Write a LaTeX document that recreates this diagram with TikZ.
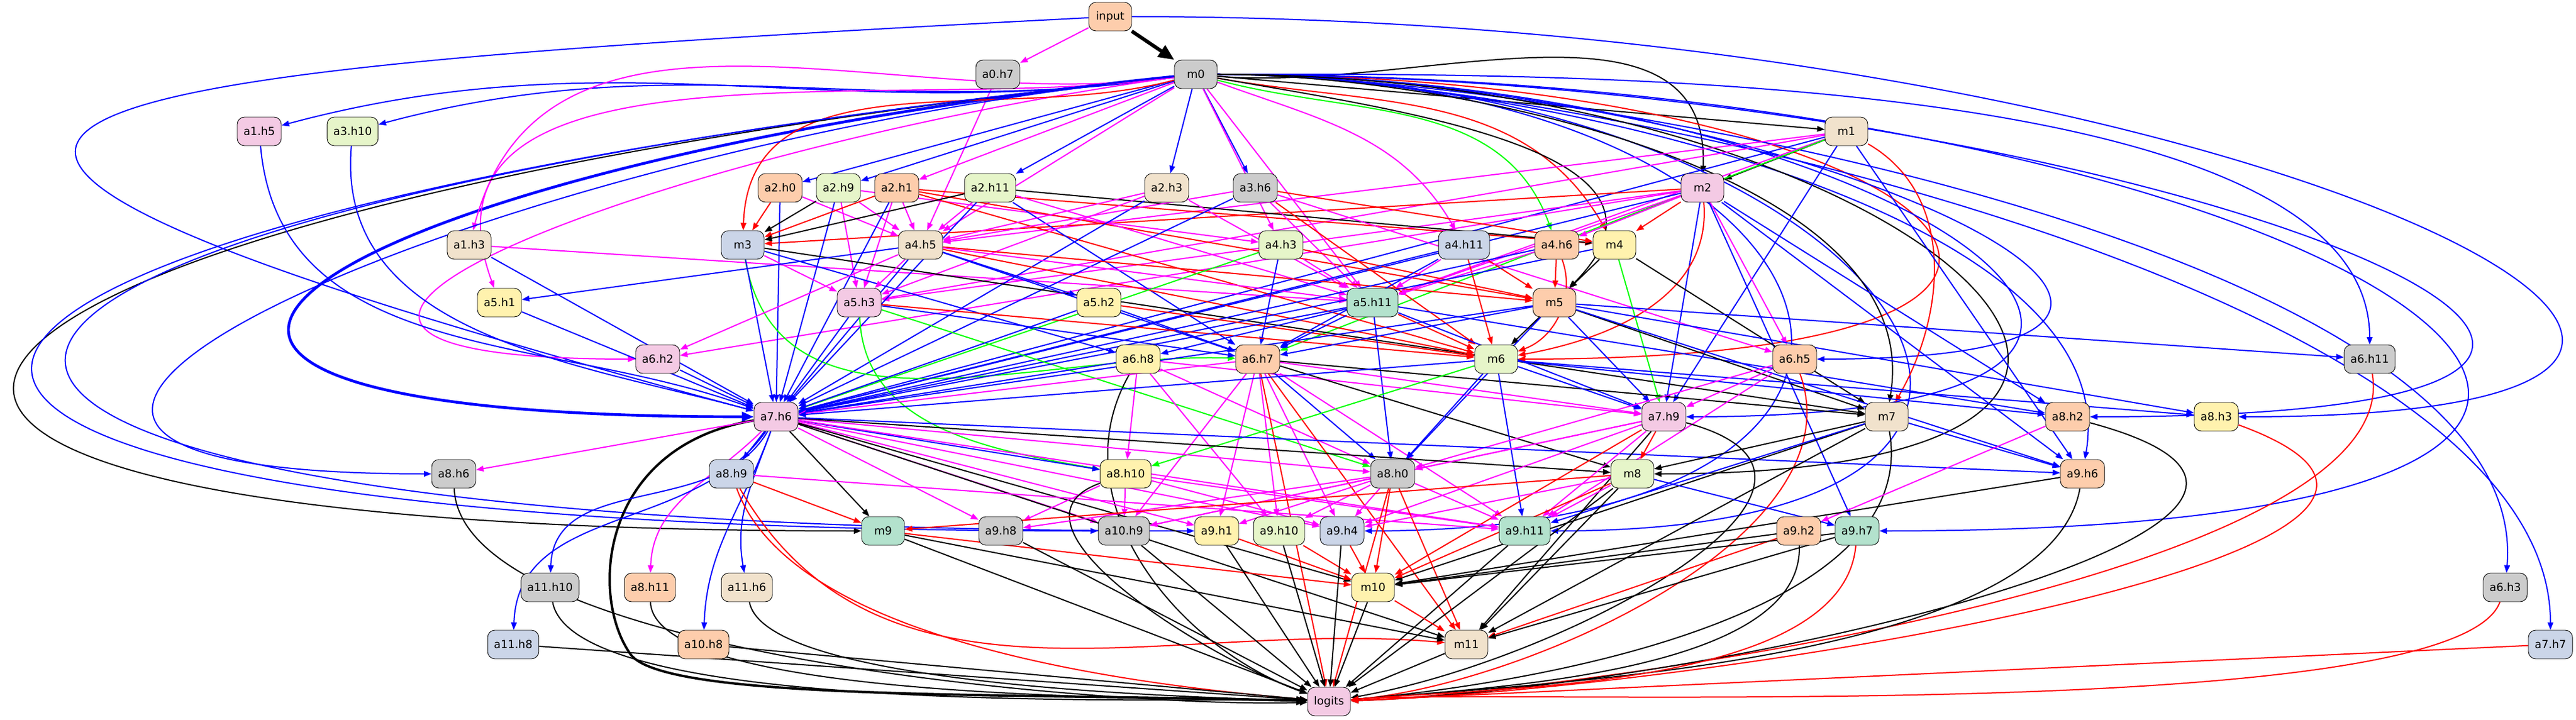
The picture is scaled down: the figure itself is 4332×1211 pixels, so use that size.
\documentclass[tikz,border=0pt]{standalone}
\usepackage{fontspec}
\setmainfont{DejaVu Sans}
\usepackage{tikz}
\usetikzlibrary{arrows.meta}
\usetikzlibrary{backgrounds}

\definecolor{cmint}{HTML}{B3E2CD}
\definecolor{cpeach}{HTML}{FDCDAC}
\definecolor{cblue}{HTML}{CBD5E8}
\definecolor{cpink}{HTML}{F4CAE4}
\definecolor{cgreen}{HTML}{E6F5C9}
\definecolor{cyellow}{HTML}{FFF2AE}
\definecolor{cbeige}{HTML}{F1E2CC}
\definecolor{cgrey}{HTML}{CCCCCC}
\definecolor{lblue}{RGB}{0,0,255}
\definecolor{lmag}{RGB}{255,0,255}
\definecolor{lred}{RGB}{255,0,0}
\definecolor{lgreen}{RGB}{0,255,0}

\begin{document}
\begin{tikzpicture}
          [x=0.2pt, y=-0.2pt, line width=0.18pt, >={Triangle[length=2.55pt,width=1.9pt]},
           head/.style = {draw, rounded corners=2.4pt, minimum width=14.4pt, minimum height=9.6pt,
                          inner xsep=2.11pt, inner ysep=0.5pt, font=\fontsize{3.73}{4.3}\selectfont},
           mintbox/.style = {head, fill=cmint}, peachbox/.style = {head, fill=cpeach},
           bluebox/.style = {head, fill=cblue}, pinkbox/.style = {head, fill=cpink},
           greenbox/.style = {head, fill=cgreen}, yellowbox/.style = {head, fill=cyellow},
           beigebox/.style = {head, fill=cbeige}, greybox/.style = {head, fill=cgrey},
           eblue/.style = {->, lblue}, emag/.style = {->, lmag}, ered/.style = {->, lred},
           egreen/.style = {->, lgreen}, eblack/.style = {->, black}]
          \useasboundingbox (0,0) rectangle (4332,1211);

          % rank 0 and 1
          \node[peachbox] (input) at (1867,28) {input};
          \node[greybox] (a0h7) at (1678,125) {a0.h7};
          \node[greybox] (m0) at (2011,125) {m0};
          % rank 2
          \node[pinkbox] (a1h5) at (436,221) {a1.h5};
          \node[greenbox] (a3h10) at (593,221) {a3.h10};
          \node[beigebox] (m1) at (3105,221) {m1};
          % rank 3
          \node[peachbox] (a2h0) at (1312,316) {a2.h0};
          \node[greenbox] (a2h9) at (1410,316) {a2.h9};
          \node[peachbox] (a2h1) at (1508,316) {a2.h1};
          \node[greenbox] (a2h11) at (1665,316) {a2.h11};
          \node[beigebox] (a2h3) at (1962,316) {a2.h3};
          \node[greybox] (a3h6) at (2111,316) {a3.h6};
          \node[pinkbox] (m2) at (2863,316) {m2};
          % rank 4
          \node[beigebox] (a1h3) at (789,412) {a1.h3};
          \node[bluebox] (m3) at (1249,412) {m3};
          \node[beigebox] (a4h5) at (1548,412) {a4.h5};
          \node[greenbox] (a4h3) at (2154,412) {a4.h3};
          \node[bluebox] (a4h11) at (2462,412) {a4.h11};
          \node[peachbox] (a4h6) at (2618,412) {a4.h6};
          \node[yellowbox] (m4) at (2715,412) {m4};
          % rank 5
          \node[yellowbox] (a5h1) at (840,509) {a5.h1};
          \node[pinkbox] (a5h3) at (1445,509) {a5.h3};
          \node[yellowbox] (a5h2) at (1848,509) {a5.h2};
          \node[mintbox] (a5h11) at (2308,509) {a5.h11};
          \node[peachbox] (m5) at (2614,509) {m5};
          % rank 6
          \node[pinkbox] (a6h2) at (1106,604) {a6.h2};
          \node[yellowbox] (a6h8) at (1914,604) {a6.h8};
          \node[peachbox] (a6h7) at (2115,604) {a6.h7};
          \node[greenbox] (m6) at (2516,604) {m6};
          \node[peachbox] (a6h5) at (3018,604) {a6.h5};
          \node[greybox] (a6h11) at (3985,604) {a6.h11};
          % rank 7
          \node[pinkbox] (a7h6) at (1305,701) {a7.h6};
          \node[pinkbox] (a7h9) at (2798,701) {a7.h9};
          \node[beigebox] (m7) at (3173,701) {m7};
          \node[peachbox] (a8h2) at (3477,701) {a8.h2};
          \node[yellowbox] (a8h3) at (3727,701) {a8.h3};
          % rank 8
          \node[greybox] (a8h6) at (763,797) {a8.h6};
          \node[bluebox] (a8h9) at (1230,797) {a8.h9};
          \node[yellowbox] (a8h10) at (1893,797) {a8.h10};
          \node[greybox] (a8h0) at (2342,797) {a8.h0};
          \node[greenbox] (m8) at (2745,797) {m8};
          \node[peachbox] (a9h6) at (3502,797) {a9.h6};
          % rank 9
          \node[mintbox] (m9) at (1485,893) {m9};
          \node[greybox] (a9h8) at (1683,893) {a9.h8};
          \node[greybox] (a10h9) at (1890,893) {a10.h9};
          \node[yellowbox] (a9h1) at (2046,893) {a9.h1};
          \node[greenbox] (a9h10) at (2151,893) {a9.h10};
          \node[bluebox] (a9h4) at (2257,893) {a9.h4};
          \node[mintbox] (a9h11) at (2564,893) {a9.h11};
          \node[peachbox] (a9h2) at (3025,893) {a9.h2};
          \node[mintbox] (a9h7) at (3123,893) {a9.h7};
          % rank 10
          \node[greybox] (a11h10) at (925,988) {a11.h10};
          \node[peachbox] (a8h11) at (1093,988) {a8.h11};
          \node[beigebox] (a11h6) at (1256,988) {a11.h6};
          \node[yellowbox] (m10) at (2309,988) {m10};
          \node[greybox] (a6h3) at (4213,988) {a6.h3};
          % rank 11 and 12
          \node[bluebox] (a11h8) at (863,1084) {a11.h8};
          \node[peachbox] (a10h8) at (1183,1084) {a10.h8};
          \node[beigebox] (m11) at (2466,1084) {m11};
          \node[bluebox] (a7h7) at (4289,1084) {a7.h7};
          \node[pinkbox] (logits) at (2235,1180) {logits};

          \begin{scope}[on background layer]
          % input
          \draw[eblack, -{Triangle[length=5.3pt,width=4.5pt]}, line width=1.2pt] (input) to (m0);
          \draw[emag] (input) to (a0h7);
          \draw[eblue] (input) .. controls (-58,127) and (-556,202) .. (a7h6);
          \draw[eblue] (input) .. controls (3760,28) and (5100,701) .. (a8h3);
          \draw[emag] (a0h7) to (a4h5);
          % m0
          \draw[eblue, -{Triangle[length=4pt,width=3.2pt]}, line width=0.93pt] (m0) .. controls (554,274) and (-159,701) .. (a7h6);
          \draw[eblue] (m0) to[out=188,in=15] (a1h5);
          \draw[eblue] (m0) to[out=188,in=15] (a3h10);
          \draw[emag] (m0) to[out=188,in=75] (a1h3);
          \draw[emag] (m0) to[out=188,in=110] (a5h1);
          \draw[emag] (m0) .. controls (1100,253) and (186,604) .. (a6h2);
          \draw[eblue] (m0) to (a2h0);
          \draw[eblue] (m0) to (a2h9);
          \draw[emag] (m0) to (a2h1);
          \draw[eblue] (m0) to (a2h11);
          \draw[eblue] (m0) to (a2h3);
          \draw[eblue] (m0) to (a3h6);
          \draw[ered] (m0) to[out=195,in=88] (m3);
          \draw[emag] (m0) to (a4h5);
          \draw[emag] (m0) to (a4h3);
          \draw[emag] (m0) to[out=-20,in=120] (a4h11);
          \draw[egreen] (m0) to[out=-15,in=110] (a4h6);
          \draw[ered] (m0) to[out=-10,in=120] (m4);
          \draw[emag] (m0) to (a5h11);
          \draw[eblack] (m0) to (m1);
          \draw[eblack] (m0) to[out=-5,in=88] (m2);
          \draw[eblack] (m0) to[out=-10,in=45,looseness=1.2] (m5);
          \draw[ered] (m0) .. controls (3275,125) and (3780,604) .. (m6);
          \draw[eblue] (m0) .. controls (3010,125) and (4017,604) .. (a6h5);
          \draw[eblue] (m0) .. controls (2526,125) and (3985,104) .. (a6h11);
          \draw[eblue] (m0) .. controls (2604,125) and (4261,412) .. (a6h3);
          \draw[eblue] (m0) .. controls (2629,125) and (4289,481) .. (a7h7);
          \draw[eblue] (m0) .. controls (3566,125) and (5032,701) .. (a8h2);
          \draw[eblue] (m0) .. controls (2497,125) and (3580,333) .. (a9h6);
          \draw[eblue] (m0) .. controls (3953,125) and (5064,893) .. (a9h7);
          \draw[eblue] (m0) .. controls (3160,125) and (3713,893) .. (a9h11);
          \draw[eblue] (m0) .. controls (3154,125) and (3400,893) .. (a9h4);
          \draw[eblue] (m0) .. controls (3194,125) and (3981,701) .. (a7h9);
          \draw[eblack] (m0) .. controls (2445,125) and (3242,288) .. (m7);
          \draw[eblack] (m0) .. controls (3218,125) and (3952,797) .. (m8);
          \draw[eblue] (m0) .. controls (814,247) and (-439,797) .. (a8h6);
          \draw[eblack] (m0) .. controls (-238,357) and (-774,893) .. (m9);
          \draw[eblue] (m0) .. controls (-492,384) and (-632,893) .. (a10h9);
          \draw[eblue] (m0) .. controls (-527,388) and (-504,893) .. (a9h1);
          % m1 and m2
          \draw[eblack] (m1) to (m2);
          \draw[emag] (m1) to (a4h5);
          \draw[emag] (m1) to (a5h3);
          \draw[emag] (m1) to (a5h11);
          \draw[egreen] (m1) to (a6h7);
          \draw[eblue] (m1) to (a7h6);
          \draw[eblue] (m1) to (a7h9);
          \draw[ered] (m1) to[out=-30,in=60] (m7);
          \draw[eblue] (m1) to (a9h6);
          \draw[ered] (m2) to (m3);
          \draw[ered] (m2) to (m4);
          \draw[emag] (m2) to (a4h6);
          \draw[emag] (m2) to (a5h11);
          \draw[emag] (m2) to (a5h3);
          \draw[emag] (m2) to (a6h2);
          \draw[emag] (m2) to (a6h5);
          \draw[eblue] (m2) to (a7h6);
          \draw[eblue] (m2) to (a7h9);
          \draw[ered] (m2) to[out=-85,in=10] (m6);
          \draw[eblue] (m2) to (a9h6);
          \draw[eblue] (m2) to (a9h7);
          \draw[eblue] (m2) to (a8h2);
          % layer 1 to 3
          \draw[eblue] (a1h5) to[out=-85,in=160] (a7h6);
          \draw[eblue] (a3h10) to[out=-95,in=165] (a7h6);
          \draw[eblue] (a1h3) to (a7h6);
          \draw[emag] (a1h3) to (a5h11);
          \draw[ered] (a2h0) to (m3);
          \draw[emag] (a2h0) to (a4h5);
          \draw[eblue] (a2h0) to (a7h6);
          \draw[eblack] (a2h9) to (m3);
          \draw[emag] (a2h9) to (a4h5);
          \draw[emag] (a2h9) to (a5h3);
          \draw[eblue] (a2h9) to (a7h6);
          \draw[emag] (a2h9) to (a4h3);
          \draw[ered] (a2h1) to (m3);
          \draw[emag] (a2h1) to (a4h5);
          \draw[emag] (a2h1) to (a5h3);
          \draw[ered] (a2h1) to (m4);
          \draw[ered] (a2h1) to (m5);
          \draw[ered] (a2h1) to (m6);
          \draw[eblue] (a2h1) to (a7h6);
          \draw[eblack] (a2h11) to (m3);
          \draw[emag] (a2h11) to (a4h5);
          \draw[eblue] (a2h11) to (a7h6);
          \draw[eblack] (a2h11) to (m4);
          \draw[eblue] (a2h11) to (a6h7);
          \draw[emag] (a2h11) to (a5h11);
          \draw[emag] (a2h3) to (a4h5);
          \draw[eblue] (a2h3) to (a7h6);
          \draw[emag] (a2h3) to (a5h11);
          \draw[emag] (a2h3) to (a5h3);
          \draw[emag] (a3h6) to (a4h5);
          \draw[emag] (a3h6) to (a5h11);
          \draw[ered] (a3h6) to (m4);
          \draw[eblue] (a3h6) to (a7h6);
          \draw[emag] (a3h6) to (a6h5);
          \draw[ered] (a3h6) to (m6);
          % layer 4
          \draw[emag] (m3) to (a5h3);
          \draw[eblue] (m3) to (a6h8);
          \draw[egreen] (m3) to[out=-80,in=178] (a6h7);
          \draw[eblue] (m3) to (a7h6);
          \draw[eblack] (m3) to (m7);
          \draw[eblue] (a4h5) to (a5h1);
          \draw[emag] (a4h5) to (a5h3);
          \draw[eblue] (a4h5) to (a5h2);
          \draw[emag] (a4h5) to (a6h2);
          \draw[eblue] (a4h5) to (a6h7);
          \draw[eblue] (a4h5) to (a7h6);
          \draw[ered] (a4h5) to (m5);
          \draw[ered] (a4h5) to (m6);
          \draw[emag] (a4h5) to (a5h11);
          \draw[emag] (a4h3) to (a5h11);
          \draw[ered] (a4h3) to (m5);
          \draw[eblue] (a4h3) to (a6h7);
          \draw[egreen] (a4h3) to (a7h6);
          \draw[emag] (a4h11) to (a5h11);
          \draw[ered] (a4h11) to (m5);
          \draw[ered] (a4h11) to (m6);
          \draw[eblue] (a4h11) to (a7h6);
          \draw[eblue] (a4h11) to (a6h7);
          \draw[emag] (a4h6) to (a5h11);
          \draw[ered] (a4h6) to (m5);
          \draw[ered] (a4h6) to[out=-70,in=20] (m6);
          \draw[eblue] (a4h6) to (a7h6);
          \draw[eblack] (m4) to (m5);
          \draw[eblue] (m4) to (a7h6);
          \draw[egreen] (m4) to (a7h9);
          \draw[eblack] (m4) to (m7);
          % layer 5
          \draw[eblue] (a5h1) to (a7h6);
          \draw[eblue] (a5h3) to (a7h6);
          \draw[eblue] (a5h3) to (a6h7);
          \draw[ered] (a5h3) to (m6);
          \draw[egreen] (a5h3) to[out=-88,in=170] (a8h10);
          \draw[egreen] (a5h3) to (a8h0);
          \draw[eblue] (a5h2) to (a7h6);
          \draw[eblue] (a5h2) to (a6h7);
          \draw[ered] (a5h2) to (m6);
          \draw[eblue] (a5h11) to (a6h8);
          \draw[eblue] (a5h11) to (a6h7);
          \draw[ered] (a5h11) to (m6);
          \draw[eblue] (a5h11) to (a7h6);
          \draw[eblue] (a5h11) to (a7h9);
          \draw[eblue] (a5h11) to (a8h0);
          \draw[eblue] (a5h11) to (a8h2);
          \draw[eblack] (m5) to (m6);
          \draw[eblue] (m5) to (a6h7);
          \draw[eblue] (m5) to (a6h11);
          \draw[eblue] (m5) to (a7h6);
          \draw[eblue] (m5) to (a7h9);
          \draw[eblue] (m5) to (a8h0);
          \draw[eblack] (m5) to (m7);
          \draw[eblue] (m5) to (a8h3);
          \draw[eblue] (m5) to (a9h6);
          % layer 6
          \draw[eblue] (a6h2) to (a7h6);
          \draw[eblue] (a6h8) to (a7h6);
          \draw[emag] (a6h8) to (a8h10);
          \draw[emag] (a6h8) to (a8h0);
          \draw[emag] (a6h8) to (a9h10);
          \draw[emag] (a6h8) to (a7h9);
          \draw[eblack] (a6h8) to[out=-120,in=160] (logits);
          \draw[emag] (a6h7) to (a7h6);
          \draw[emag] (a6h7) to (a7h9);
          \draw[eblue] (a6h7) to (a8h0);
          \draw[eblack] (a6h7) to (m8);
          \draw[eblack] (a6h7) to (m7);
          \draw[emag] (a6h7) to (a9h11);
          \draw[emag] (a6h7) to (a9h4);
          \draw[emag] (a6h7) to (a9h10);
          \draw[emag] (a6h7) to (a10h9);
          \draw[emag] (a6h7) to (a9h1);
          \draw[ered] (a6h7) to (m11);
          \draw[ered] (a6h7) to (logits);
          \draw[eblue] (m6) to (a7h6);
          \draw[eblue] (m6) to (a7h9);
          \draw[eblue] (m6) to (a8h0);
          \draw[egreen] (m6) to (a8h10);
          \draw[eblue] (m6) to (a9h11);
          \draw[eblue] (m6) to (a8h2);
          \draw[eblue] (m6) to (a8h3);
          \draw[emag] (a6h5) to (a7h9);
          \draw[emag] (a6h5) to (a8h0);
          \draw[emag] (a6h5) to (a9h11);
          \draw[ered] (a6h5) to[out=-70,in=5,looseness=0.8] (logits);
          \draw[ered] (a6h11) to[out=-80,in=2,looseness=0.5] (logits);
          % layer 7
          \draw[eblack, -{Triangle[length=3.7pt,width=2.9pt]}, line width=0.8pt] (a7h6) .. controls (1010,750) and (990,1000) .. (1060,1100) .. controls (1116,1180) and (1700,1165) .. (logits);
          \draw[emag] (a7h6) to (a8h6);
          \draw[eblue] (a7h6) to (a8h9);
          \draw[emag] (a7h6) to[out=225,in=88] (a8h11);
          \draw[eblue] (a7h6) to[out=240,in=88] (a11h10);
          \draw[eblue] (a7h6) to[out=250,in=100] (a11h6);
          \draw[eblue] (a7h6) to[out=250,in=88] (a10h8);
          \draw[eblue] (a7h6) to[out=235,in=88] (a11h8);
          \draw[eblack] (a7h6) to (m9);
          \draw[emag] (a7h6) to (a9h8);
          \draw[emag] (a7h6) to (a10h9);
          \draw[emag] (a7h6) to (a9h1);
          \draw[eblue] (a7h6) to (a8h10);
          \draw[emag] (a7h6) to (a8h0);
          \draw[emag] (a7h6) to (a9h4);
          \draw[emag] (a7h6) to (a9h11);
          \draw[eblack] (a7h6) to (m8);
          \draw[eblack] (a7h6) to (m10);
          \draw[eblack] (a7h6) to (m11);
          \draw[eblue] (a7h6) to (a9h6);
          \draw[ered] (a7h9) to (m8);
          \draw[emag] (a7h9) to (a8h0);
          \draw[emag] (a7h9) to (a9h11);
          \draw[emag] (a7h9) to (a9h4);
          \draw[emag] (a7h9) to (a10h9);
          \draw[ered] (a7h9) to (m10);
          \draw[eblack] (a7h9) to (m11);
          \draw[eblack] (a7h9) to[out=-15,in=10,looseness=1.3] (logits);
          \draw[eblack] (m7) to (m8);
          \draw[eblack] (m7) to (m10);
          \draw[eblack] (m7) to (m11);
          \draw[eblack] (m7) to[out=-80,in=5,looseness=0.8] (logits);
          \draw[eblue] (m7) to (a9h6);
          \draw[eblue] (m7) to (a9h11);
          \draw[emag] (a8h2) to (a9h2);
          \draw[eblack] (a8h2) to[out=-15,in=2,looseness=1.2] (logits);
          \draw[ered] (a8h3) to[out=-20,in=2] (logits);
          % layer 8
          \draw[eblack] (a8h6) to[out=-88,in=182,looseness=0.5] (logits);
          \draw[ered] (a8h9) to (m9);
          \draw[ered] (a8h9) to[out=-60,in=175] (m11);
          \draw[ered] (a8h9) to[out=-70,in=175,looseness=0.7] (logits);
          \draw[emag] (a8h9) to (a9h11);
          \draw[emag] (a8h10) to (a10h9);
          \draw[emag] (a8h10) to (a9h8);
          \draw[emag] (a8h10) to (a9h4);
          \draw[emag] (a8h10) to (a9h11);
          \draw[eblack] (a8h10) to[out=200,in=160] (logits);
          \draw[ered] (a8h0) to (m10);
          \draw[ered] (a8h0) to (m11);
          \draw[ered] (a8h0) to (logits);
          \draw[emag] (a8h0) to (a9h4);
          \draw[emag] (a8h0) to (a9h10);
          \draw[emag] (a8h0) to (a9h11);
          \draw[emag] (a8h0) to (a10h9);
          \draw[emag] (a8h0) to (a9h8);
          \draw[emag] (a8h0) to (a9h1);
          \draw[emag] (m8) to (a9h11);
          \draw[eblue] (m8) to (a9h7);
          \draw[ered] (m8) to (m10);
          \draw[eblack] (m8) to (m11);
          \draw[eblack] (m8) to (logits);
          \draw[ered] (m8) to (m9);
          \draw[emag] (m8) to (a9h4);
          \draw[eblack] (a9h6) to[out=-100,in=5,looseness=0.6] (logits);
          \draw[eblack] (a9h6) to (m10);
          % layer 9 and after
          \draw[eblack] (m9) to (m11);
          \draw[eblack] (m9) to (logits);
          \draw[ered] (m9) to (m10);
          \draw[eblack] (a9h8) to (logits);
          \draw[eblack] (a10h9) to (logits);
          \draw[eblack] (a9h1) to (logits);
          \draw[ered] (a9h1) to (m10);
          \draw[eblack] (a9h10) to (logits);
          \draw[ered] (a9h10) to (m10);
          \draw[eblack] (a9h4) to (logits);
          \draw[ered] (a9h4) to (m10);
          \draw[eblack] (a9h11) to (logits);
          \draw[eblack] (a9h2) to (m10);
          \draw[ered] (a9h2) to (m11);
          \draw[eblack] (a9h2) to[out=-88,in=5,looseness=0.7] (logits);
          \draw[eblack] (a9h7) to (m10);
          \draw[eblack] (a9h7) to (m11);
          \draw[ered] (a9h7) to[out=-95,in=5,looseness=0.7] (logits);
          \draw[eblack] (a11h10) to[out=-80,in=178,looseness=0.4] (logits);
          \draw[eblack] (a8h11) to[out=-88,in=178,looseness=0.4] (logits);
          \draw[eblack] (a11h6) to[out=-80,in=178,looseness=0.4] (logits);
          \draw[eblack] (a11h8) to (logits);
          \draw[eblack] (a10h8) to (logits);
          \draw[ered] (m10) to (m11);
          \draw[eblack] (m10) to (logits);
          \draw[eblack] (m11) to (logits);
          \draw[ered] (a6h3) to[out=-110,in=5,looseness=0.3] (logits);
          \draw[ered] (a7h7) to (logits);
          \end{scope}
\end{tikzpicture}
\end{document}
